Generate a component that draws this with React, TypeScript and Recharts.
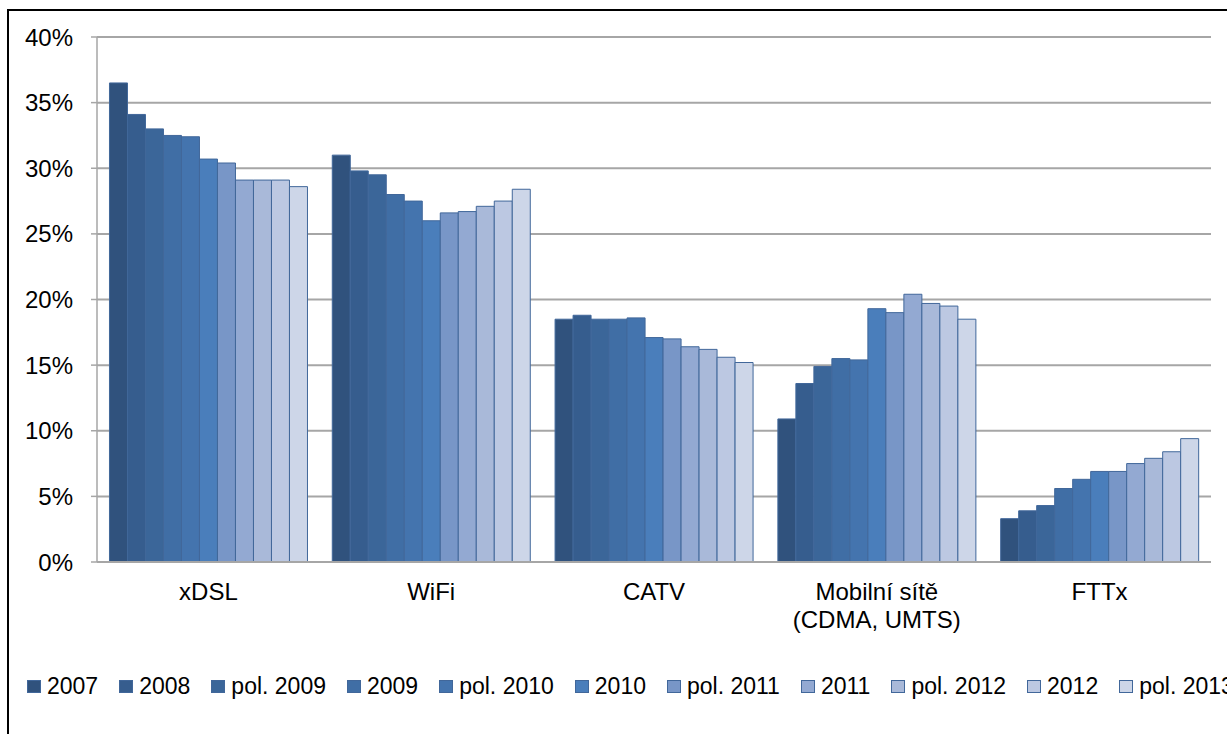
import React from "react";
import { BarChart, Bar, XAxis, YAxis, CartesianGrid, Legend } from "recharts";

const categories = ["xDSL", "WiFi", "CATV", "Mobilní sítě\n(CDMA, UMTS)", "FTTx"];

const s2007 = [36.5, 31.0, 18.5, 10.9, 3.3];
const s2008 = [34.1, 29.8, 18.8, 13.6, 3.9];
const sPol2009 = [33.0, 29.5, 18.5, 14.9, 4.3];
const s2009 = [32.5, 28.0, 18.5, 15.5, 5.6];
const sPol2010 = [32.4, 27.5, 18.6, 15.4, 6.3];
const s2010 = [30.7, 26.0, 17.1, 19.3, 6.9];
const sPol2011 = [30.4, 26.6, 17.0, 19.0, 6.9];
const s2011 = [29.1, 26.7, 16.4, 20.4, 7.5];
const sPol2012 = [29.1, 27.1, 16.2, 19.7, 7.9];
const s2012 = [29.1, 27.5, 15.6, 19.5, 8.4];
const sPol2013 = [28.6, 28.4, 15.2, 18.5, 9.4];

const seriesNames = ["2007", "2008", "pol. 2009", "2009", "pol. 2010", "2010", "pol. 2011", "2011", "pol. 2012", "2012", "pol. 2013"];
const seriesValues = [s2007, s2008, sPol2009, s2009, sPol2010, s2010, sPol2011, s2011, sPol2012, s2012, sPol2013];
const seriesColors = ["#30527D", "#365D8E", "#3B6699", "#406EA5", "#4474AE", "#4A7EBB", "#7896C7", "#93A9D2", "#A9B9D9", "#BCC8E2", "#CDD6E8"];

const yTicks = [0, 5, 10, 15, 20, 25, 30, 35, 40];

const data = categories.map((c, i) => {
  const row: any = { name: c };
  seriesNames.forEach((s, j) => {
    row["k" + j] = seriesValues[j][i];
  });
  return row;
});

const FONT = '"Liberation Sans", Arial, sans-serif';

const XTick = (props: any) => {
  const { x, y, payload } = props;
  const lines = String(payload.value).split("\n");
  return (
    <text x={x} y={y + 38} textAnchor="middle" fontFamily={FONT} fontSize={24} fill="#000">
      {lines.map((l, i) => (
        <tspan key={i} x={x} dy={i === 0 ? 0 : 28}>
          {l}
        </tspan>
      ))}
    </text>
  );
};

const LegendContent = () => (
  <div style={{ display: "flex", alignItems: "center", fontFamily: FONT, fontSize: 23, color: "#000", whiteSpace: "nowrap", paddingLeft: 27 }}>
    {seriesNames.map((n, i) => (
      <div key={n} style={{ display: "flex", alignItems: "center", marginRight: 21, flexShrink: 0 }}>
        <span style={{ display: "inline-block", width: 12, height: 11, background: seriesColors[i], border: "1px solid #41679A", marginRight: 6 }} />
        <span>{n}</span>
      </div>
    ))}
  </div>
);

export default function App() {
  return (
    <div style={{ position: "absolute", left: 0, top: 0, width: 1227, height: 734, background: "#fff", overflow: "hidden" }}>
      <div style={{ position: "absolute", left: 7, top: 9, width: 1240, height: 740, border: "2px solid #000", boxSizing: "border-box" }} />
      <div style={{ position: "absolute", left: 0, top: 0 }}>
        <BarChart
          width={1227}
          height={734}
          data={data}
          margin={{ top: 37, right: 16, bottom: 112, left: 0 }}
          barCategoryGap="5.6%"
          barGap={0}
        >
          <CartesianGrid vertical={false} stroke="#A6A6A6" strokeWidth={2} />
          <YAxis
            width={97}
            domain={[0, 40]}
            ticks={yTicks}
            interval={0}
            tickFormatter={(v: number) => v + "%"}
            tick={{ fontFamily: FONT, fontSize: 24, fill: "#000" }}
            axisLine={{ stroke: "#A6A6A6", strokeWidth: 1.5 }}
            tickLine={{ stroke: "#A6A6A6", strokeWidth: 1.5 }}
            tickSize={6}
            tickMargin={18}
          />
          <XAxis
            dataKey="name"
            height={60}
            tick={<XTick />}
            tickLine={false}
            tickSize={0}
            tickMargin={0}
            interval={0}
            axisLine={{ stroke: "#A6A6A6", strokeWidth: 2 }}
          />
          <Legend content={<LegendContent />} wrapperStyle={{ top: 673, left: 0, height: 0, width: 1260 }} />
          {seriesNames.map((n, j) => (
            <Bar key={n} dataKey={"k" + j} name={n} fill={seriesColors[j]} stroke="#41679A" strokeWidth={1} isAnimationActive={false} />
          ))}
        </BarChart>
      </div>
    </div>
  );
}
